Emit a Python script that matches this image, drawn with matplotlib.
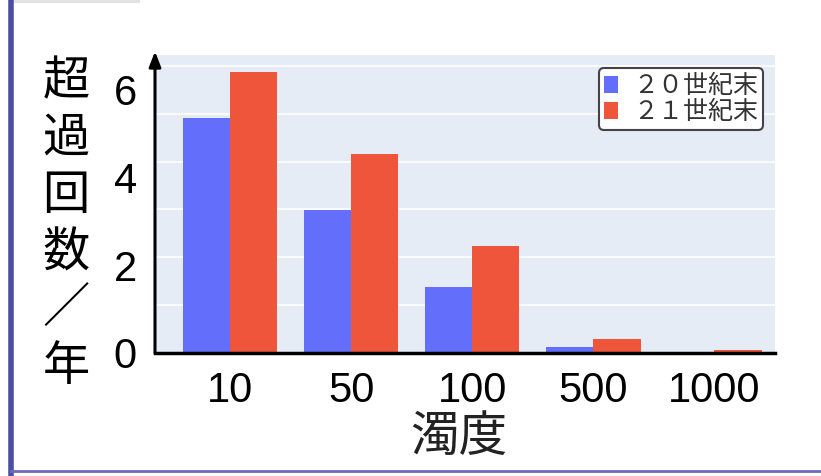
import matplotlib
matplotlib.use("Agg")
import matplotlib.pyplot as plt
from matplotlib.patches import Rectangle
from matplotlib.lines import Line2D
import numpy as np

# 濁度ごとの年間超過回数
turbidity = ["10", "50", "100", "500", "1000"]
late_20c = [5.35, 3.26, 1.50, 0.14, 0.0]
late_21c = [6.40, 4.53, 2.44, 0.32, 0.07]
series_names = ["２０世紀末", "２１世紀末"]
yticks = [0, 2, 4, 6]
ylabel_chars = ["超", "過", "回", "数", "／", "年"]
xlabel = "濁度"

BLUE = "#636EFA"
RED = "#EF553B"
BG = "#E5ECF6"
SLIDE = "#4B4FA3"

JP = ["Noto Sans CJK JP", "DejaVu Sans"]
NUM = ["Liberation Sans", "DejaVu Sans"]

W, H = 821, 476
fig = plt.figure(figsize=(W / 100, H / 100), dpi=100)

# slide frame: purple rule on the left and along the bottom
fig.add_artist(Line2D([11 / W, 11 / W], [0, 1], color=SLIDE, lw=4))
fig.add_artist(Line2D([11 / W, 1], [1 - 471 / H, 1 - 471 / H], color="#6a6db8", lw=2))
fig.add_artist(Rectangle((14 / W, 1 - 3 / H), 126 / W, 3 / H, color="#e2e2e2", lw=0))

x0, x1, ytop, ybase = 155, 775, 55, 353
ax = fig.add_axes([x0 / W, 1 - ybase / H, (x1 - x0) / W, (ybase - ytop) / H])
ax.set_facecolor(BG)

x = np.arange(len(turbidity))
bw = 0.39
ax.bar(x - bw / 2, late_20c, bw, color=BLUE, label=series_names[0], zorder=3)
ax.bar(x + bw / 2, late_21c, bw, color=RED, label=series_names[1], zorder=3)

ax.set_xlim(-0.62, 4.5)
ax.set_ylim(0, 6.79)

# horizontal white grid
for g in np.arange(1.09, 6.79, 1.09):
    ax.axhline(g, color="white", lw=1.2, zorder=1)

ax.set_xticks(x)
ax.set_xticklabels(turbidity, family=NUM, fontsize=30)
ax.set_yticks(yticks)
ax.set_yticklabels([str(v) for v in yticks], family=NUM, fontsize=30)
ax.tick_params(axis="x", length=0, pad=13)
ax.tick_params(axis="y", length=0, pad=13)

for s in ["top", "right", "left"]:
    ax.spines[s].set_visible(False)
ax.spines["bottom"].set_linewidth(2.5)
ax.spines["bottom"].set_zorder(5)

# y axis drawn as an arrow
ax.annotate("", xy=(0, 1.012), xytext=(0, 0), xycoords="axes fraction",
            arrowprops=dict(arrowstyle="-|>,head_length=0.9,head_width=0.35",
                            color="black", lw=2.2, shrinkA=0, shrinkB=0),
            annotation_clip=False, zorder=6)

leg = ax.legend(loc="upper right", bbox_to_anchor=(0.981, 0.956),
                prop={"family": JP, "size": 18}, frameon=True, fancybox=True,
                handlelength=0.55, handleheight=0.7, handletextpad=0.6,
                borderpad=0.2, labelspacing=0.0, borderaxespad=0)
leg.get_frame().set_edgecolor("#444444")
leg.get_frame().set_linewidth(1.5)
leg.get_frame().set_facecolor("white")
leg.get_frame().set_alpha(1)
for t in leg.get_texts():
    t.set_color("#333333")

# vertical y label, one character per line
yc = np.linspace(82, 367, len(ylabel_chars))
for ch, yy in zip(ylabel_chars, yc):
    fig.text(66 / W, 1 - yy / H, ch, family=JP, fontsize=34,
             ha="center", va="center")

fig.text(459 / W, 1 - 437 / H, xlabel, family=JP, fontsize=35,
         ha="center", va="center", color="#222222")

fig.savefig("out.png", dpi=100)
